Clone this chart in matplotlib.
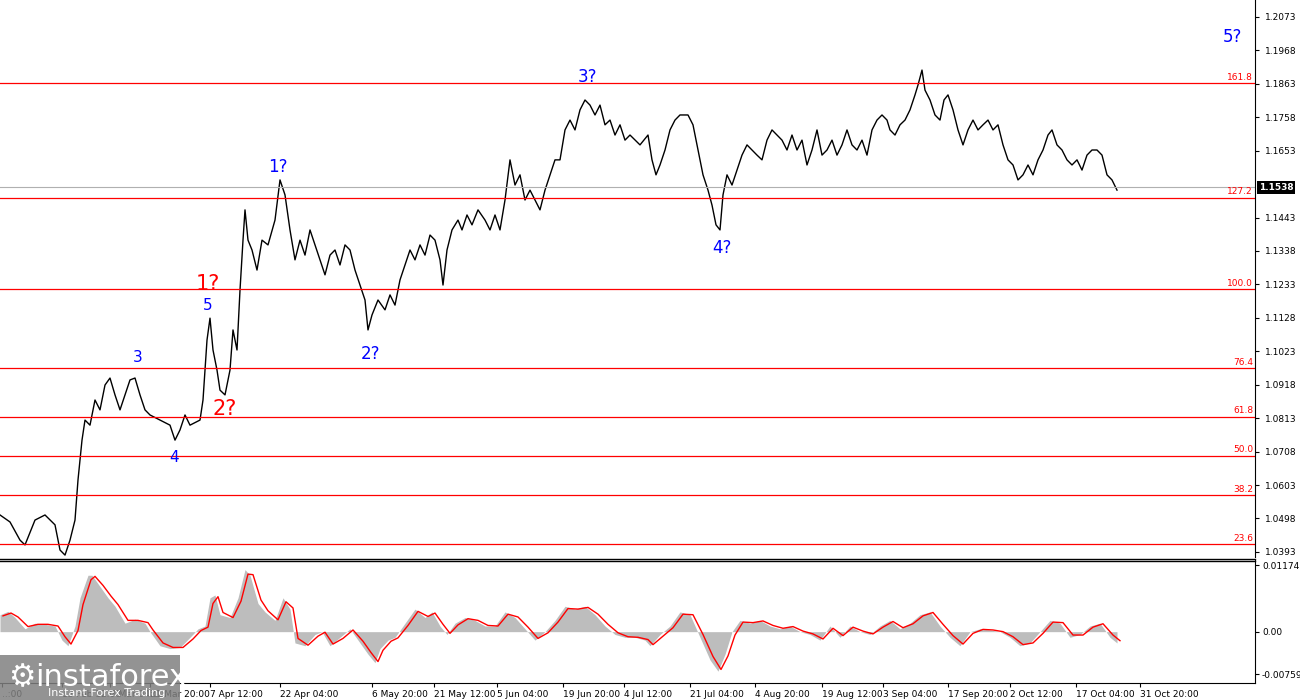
import matplotlib
matplotlib.use("Agg")
import matplotlib.pyplot as plt
from matplotlib.patches import Rectangle

bar_x = [0,10,20,25,35,45,55,60,65,70,75,78,82,85,90,95,100,105,110,115,120,125,130,135,140,145,150,160,170,175,180,185,190,200,203,207,210,213,217,220,225,230,233,237,240,243,245,248,252,257,262,268,275,280,285,290,295,300,305,310,315,320,325,330,335,340,345,350,355,360,365,368,372,378,385,390,395,400,405,410,415,420,425,430,435,440,443,447,452,458,462,467,472,478,485,490,495,500,505,510,515,520,525,530,535,540,545,550,555,560,565,570,575,580,585,590,595,600,605,610,615,620,625,630,640,648,652,656,660,665,670,675,680,688,693,698,703,708,712,716,720,723,727,732,737,742,747,752,757,762,767,772,777,782,787,792,797,802,807,812,817,822,827,832,837,842,847,852,857,862,867,872,877,882,887,890,895,900,905,910,915,918,922,925,930,935,940,944,948,953,958,963,968,973,978,983,988,993,998,1003,1008,1013,1018,1023,1028,1033,1038,1043,1048,1052,1057,1062,1067,1072,1077,1082,1087,1092,1097,1102,1107,1112,1117]
price = [1.0509,1.0487,1.0430,1.0415,1.0493,1.0509,1.0478,1.0399,1.0383,1.0430,1.0493,1.0619,1.0744,1.0807,1.0791,1.0870,1.0839,1.0917,1.0939,1.0886,1.0839,1.0886,1.0933,1.0939,1.0886,1.0839,1.0823,1.0807,1.0791,1.0744,1.0776,1.0823,1.0791,1.0807,1.0870,1.1058,1.1127,1.1027,1.0964,1.0901,1.0886,1.0964,1.1090,1.1027,1.1215,1.1372,1.1467,1.1372,1.1341,1.1278,1.1372,1.1357,1.1435,1.1561,1.1514,1.1404,1.1310,1.1372,1.1325,1.1404,1.1357,1.1310,1.1263,1.1325,1.1341,1.1294,1.1357,1.1341,1.1278,1.1231,1.1184,1.1090,1.1137,1.1184,1.1153,1.1200,1.1168,1.1247,1.1294,1.1341,1.1310,1.1357,1.1325,1.1388,1.1372,1.1310,1.1231,1.1341,1.1404,1.1435,1.1404,1.1451,1.1420,1.1467,1.1435,1.1404,1.1451,1.1404,1.1498,1.1624,1.1545,1.1577,1.1498,1.1529,1.1498,1.1467,1.1529,1.1577,1.1624,1.1624,1.1718,1.1749,1.1718,1.1781,1.1812,1.1796,1.1765,1.1796,1.1734,1.1749,1.1702,1.1734,1.1686,1.1702,1.1671,1.1702,1.1624,1.1577,1.1608,1.1655,1.1718,1.1749,1.1765,1.1765,1.1734,1.1655,1.1577,1.1529,1.1482,1.1420,1.1404,1.1514,1.1577,1.1545,1.1592,1.1639,1.1671,1.1655,1.1639,1.1624,1.1686,1.1718,1.1702,1.1686,1.1655,1.1702,1.1655,1.1686,1.1608,1.1655,1.1718,1.1639,1.1655,1.1686,1.1639,1.1671,1.1718,1.1671,1.1655,1.1686,1.1639,1.1718,1.1749,1.1765,1.1749,1.1718,1.1702,1.1734,1.1749,1.1781,1.1828,1.1859,1.1906,1.1843,1.1812,1.1765,1.1749,1.1812,1.1828,1.1781,1.1718,1.1671,1.1718,1.1749,1.1718,1.1734,1.1749,1.1718,1.1734,1.1671,1.1624,1.1608,1.1561,1.1577,1.1608,1.1577,1.1624,1.1655,1.1702,1.1718,1.1671,1.1655,1.1624,1.1608,1.1624,1.1592,1.1639,1.1655,1.1655,1.1639,1.1577,1.1561,1.1529]

osc_x = [0,8,15,25,35,45,55,62,68,75,80,88,92,100,108,115,125,135,145,150,160,170,180,190,198,205,210,215,220,230,238,245,250,258,265,275,283,290,295,305,315,322,330,340,350,360,368,375,380,388,395,405,415,425,432,440,447,455,465,475,485,495,505,515,525,535,545,555,565,575,585,595,605,615,625,635,645,650,660,670,680,690,700,710,718,725,732,740,750,760,770,780,790,800,810,820,830,840,850,860,870,880,890,900,910,920,930,940,950,960,970,980,990,1000,1010,1020,1030,1040,1050,1060,1070,1080,1090,1100,1110,1117]
osc_hist = [3.0,3.6,2.5,0.5,1.5,1.3,1.0,-1.5,-2.5,1.0,6,10,10,8,6,4.5,1.5,2.2,1.5,0,-2.5,-3,-2.8,-1,0.5,1,6,6.5,3,2.5,6,11,10,5,3.5,2,6,4,-2,-2.5,-0.5,0,-2.5,-1,0.5,-2,-4,-5.5,-3,-1.5,-1,1.5,4,2.5,3.5,1,-0.5,1.5,2.5,2,1,1,3.5,2.5,0.5,-1.5,0,2,4.5,4,4.5,3,1,-0.5,-1,-1,-1.5,-2.5,-0.5,1,3.5,3,-1,-5,-7,-4,0,2,1.5,2,1,0.5,1,0,-0.5,-1.5,1,-1,1,0,-0.5,1,2,0.5,1.5,3,3.5,1,-1,-2.5,0,0.5,0.3,0,-1,-2.5,-2,0,2,1.5,-1,-0.5,1,1.5,-1,-2]
osc_signal = [2.8,3.3,2.6,0.9,1.3,1.3,1.0,-0.9,-2.2,0.2,4.8,9.2,9.8,8.2,6.3,4.8,2.0,2.0,1.6,0.3,-2.0,-2.8,-2.8,-1.3,0.2,0.8,5.0,6.2,3.4,2.5,5.4,10.2,10.1,5.6,3.7,2.1,5.3,4.2,-1.2,-2.4,-0.8,-0.1,-2.2,-1.2,0.3,-1.7,-3.7,-5.3,-3.3,-1.7,-1.1,1.1,3.6,2.7,3.3,1.3,-0.3,1.2,2.3,2.0,1.1,1.0,3.1,2.6,0.8,-1.2,-0.2,1.7,4.1,4.0,4.3,3.1,1.3,-0.2,-0.9,-1.0,-1.4,-2.3,-0.8,0.7,3.1,3.0,-0.5,-4.4,-6.7,-4.3,-0.6,1.7,1.6,1.9,1.1,0.6,0.9,0.1,-0.4,-1.3,0.6,-0.7,0.8,0.1,-0.4,0.8,1.8,0.7,1.4,2.8,3.4,1.3,-0.7,-2.2,-0.3,0.4,0.3,0.0,-0.9,-2.3,-2.0,-0.3,1.7,1.6,-0.6,-0.6,0.8,1.4,-0.6,-1.6]

price_ticks = [1.2073,1.1968,1.1863,1.1758,1.1653,1.1443,1.1338,1.1233,1.1128,1.1023,1.0918,1.0813,1.0708,1.0603,1.0498,1.0393]
fib_levels = [1.1865,1.1505,1.1219,1.0971,1.0818,1.0695,1.0572,1.0418]
fib_labels = ["161.8","127.2","100.0","76.4","61.8","50.0","38.2","23.6"]
current_price = 1.1538
date_pos = [2,62,110,150,210,280,372,434,497,563,624,690,755,822,883,948,1010,1076,1140]
date_labels = ["..:00","13 Feb 12:00","7 Mar 04:00","21 Mar 20:00","7 Apr 12:00","22 Apr 04:00","6 May 20:00","21 May 12:00","5 Jun 04:00","19 Jun 20:00","4 Jul 12:00","21 Jul 04:00","4 Aug 20:00","19 Aug 12:00","3 Sep 04:00","17 Sep 20:00","2 Oct 12:00","17 Oct 04:00","31 Oct 20:00"]
wave_text = ["1?","2?","3?","4?","5?","3","4","5","1?","2?"]
wave_x = [278,370,587,722,1232,138,174,208,208,225]
wave_y = [1.1602,1.1016,1.1884,1.1347,1.2011,1.1005,1.0688,1.1168,1.1234,1.0842]
wave_col = ["blue"]*8 + ["red","red"]
wave_size = [12,12,12,12,12,11,11,11,15,15]

fig = plt.figure(figsize=(13,7), dpi=100)
W, H = 1300, 700
ax = fig.add_axes([0, 143/H, 1255/W, 557/H])
ax2 = fig.add_axes([0, 17/H, 1255/W, 123/H])

ylo = 1.2126 - 557*0.000314
ax.set_ylim(ylo, 1.2126)
ax.set_xlim(0, 1255)
ax.plot(bar_x, price, color="black", lw=1.0)
for lv, lb in zip(fib_levels, fib_labels):
    ax.axhline(lv, color="red", lw=0.9)
    ax.text(1253, lv+0.0004, lb, color="red", fontsize=6.5, ha="right", va="bottom")
ax.axhline(current_price, color="#b0b0b0", lw=0.8)
for t, x, y, c, s in zip(wave_text, wave_x, wave_y, wave_col, wave_size):
    ax.text(x, y, t, color=c, fontsize=s, ha="center", va="center")
ax.yaxis.tick_right()
ax.set_yticks(price_ticks)
ax.set_yticklabels([f"{v:.4f}" for v in price_ticks], fontsize=6.5)
ax.tick_params(axis="y", length=3, pad=4)
ax.set_xticks([])
for sp in ["top","left","bottom"]:
    ax.spines[sp].set_visible(False)
ax.text(1.003, (current_price-ylo)/(1.2126-ylo), f"{current_price:.4f}", transform=ax.transAxes,
        fontsize=6.5, color="white", va="center", ha="left", fontweight="bold",
        bbox=dict(facecolor="black", edgecolor="none", pad=1.5), clip_on=False)
fig.add_artist(plt.Line2D([0, 1255/W], [141.5/H, 141.5/H], color="black", lw=1))
fig.add_artist(plt.Line2D([0, 1255/W], [139.5/H, 139.5/H], color="black", lw=1))

ax2.set_xlim(0, 1255)
ax2.set_ylim(-0.0091, 0.0127)
hv = [v*1e-3 for v in osc_hist]
sv = [v*1e-3 for v in osc_signal]
ax2.fill_between(osc_x, 0, hv, color="#bdbdbd", lw=0)
ax2.plot([x+3 for x in osc_x], sv, color="red", lw=1)
ax2.yaxis.tick_right()
ax2.set_yticks([0.01174, 0.0, -0.00759])
ax2.set_yticklabels(["0.01174","0.00","-0.00759"], fontsize=6.5)
ax2.tick_params(axis="y", length=3, pad=2)
ax2.set_xticks(date_pos)
ax2.set_xticklabels(date_labels, fontsize=6.5, ha="left")
ax2.tick_params(axis="x", length=3, pad=2)
for sp in ["top","left"]:
    ax2.spines[sp].set_visible(False)

fig.patches.append(Rectangle((0, 0), 180/W, 45/H, transform=fig.transFigure,
                             facecolor="#808080", alpha=0.85, edgecolor="none", zorder=10))
fig.text(35/W, 22/H, "instaforex", fontsize=22, color="white", va="center", zorder=11)
fig.text(48/W, 7/H, "Instant Forex Trading", fontsize=8, color="white", va="center", zorder=11)
fig.text(8/W, 22/H, "\u2699", fontsize=22, color="white", va="center", zorder=11)

fig.savefig("out.png", dpi=100, facecolor="white")
